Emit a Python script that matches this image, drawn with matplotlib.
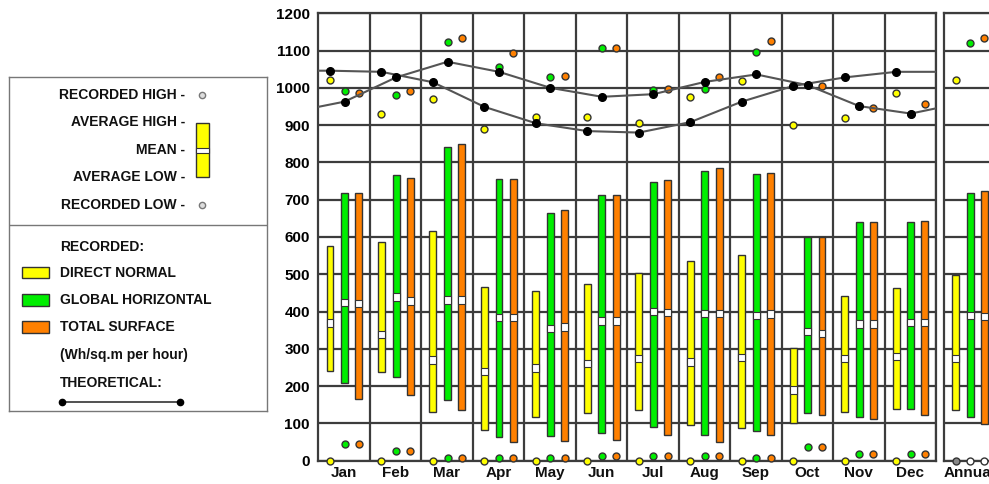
import matplotlib
matplotlib.use("Agg")
import matplotlib.pyplot as plt
from matplotlib.patches import Rectangle
import numpy as np

plt.rcParams['font.family'] = ['Liberation Sans', 'DejaVu Sans']
plt.rcParams['font.weight'] = 'bold'

months = ['Jan', 'Feb', 'Mar', 'Apr', 'May', 'Jun',
          'Jul', 'Aug', 'Sep', 'Oct', 'Nov', 'Dec']

# direct normal
dn_hi = [577, 586, 617, 465, 455, 473, 504, 535, 552, 303, 442, 462]
dn_lo = [240, 237, 131, 82, 118, 129, 136, 95, 87, 102, 131, 138]
dn_mean = [369, 339, 270, 239, 249, 261, 274, 265, 276, 189, 274, 279]
dn_rec_hi = [1022, 929, 969, 890, 923, 923, 905, 976, 1018, 900, 918, 987]
dn_rec_lo = [0, 0, 0, 0, 0, 0, 0, 0, 0, 0, 0, 0]

# global horizontal
gh_hi = [719, 766, 842, 755, 664, 712, 748, 776, 769, 599, 641, 639]
gh_lo = [207, 225, 163, 62, 66, 73, 89, 69, 79, 127, 118, 138]
gh_mean = [424, 439, 431, 384, 355, 375, 400, 395, 389, 346, 366, 370]
gh_rec_hi = [992, 980, 1122, 1057, 1028, 1108, 994, 997, 1097, 1007, 951, 931]
gh_rec_lo = [45, 27, 6, 6, 6, 11, 11, 11, 6, 37, 18, 18]

# total surface
ts_hi = [719, 759, 850, 755, 672, 712, 752, 786, 772, 599, 639, 643]
ts_lo = [165, 176, 136, 49, 53, 55, 69, 49, 69, 122, 111, 122]
ts_mean = [422, 428, 431, 384, 359, 375, 397, 395, 393, 341, 366, 370]
ts_rec_hi = [987, 992, 1133, 1094, 1032, 1108, 997, 1028, 1126, 1004, 945, 956]
ts_rec_lo = [45, 27, 6, 6, 6, 11, 11, 11, 6, 37, 18, 18]

# annual: avg high, avg low, mean, recorded high, recorded low
ann_dn = [498, 136, 274, 1021, 0]
ann_gh = [719, 118, 390, 1121, 0]
ann_ts = [723, 98, 386, 1133, 0]

# theoretical curves (month points + value at left / right edge)
theo_a = [1046, 1043, 1015, 949, 905, 884, 880, 908, 963, 1005, 1028, 1043]
theo_a_edges = [1046, 1043]
theo_b = [963, 1028, 1070, 1043, 1000, 976, 983, 1016, 1036, 1007, 951, 931]
theo_b_edges = [949, 945]

YEL, GRN, ORG = '#ffff00', '#00ee00', '#ff8000'
EDGE = '#333333'
GRID = '#3c3c3c'
OFFS = [0.227, 0.51, 0.785]
BW = 0.135

W, H = 989, 484
fig = plt.figure(figsize=(W / 100, H / 100), dpi=100)


def px_axes(x0, y0, x1, y1):
    return fig.add_axes([x0 / W, (H - y1) / H, (x1 - x0) / W, (y1 - y0) / H])


def draw_set(ax, x, hi, lo, mean, rhi, rlo, color, lo_face=None):
    x = np.asarray(x, float)
    hi, lo, mean = map(np.asarray, (hi, lo, mean))
    ax.bar(x, hi - lo, bottom=lo, width=BW, color=color, edgecolor=EDGE,
           linewidth=1, zorder=3)
    ax.bar(x, 20, bottom=mean - 10, width=BW, color='white', edgecolor=EDGE,
           linewidth=0.8, zorder=4)
    ax.plot(x, rhi, 'o', ms=5, mfc=color, mec=EDGE, mew=1, zorder=5,
            clip_on=False)
    ax.plot(x, rlo, 'o', ms=5, mfc=lo_face or color, mec=EDGE, mew=1,
            zorder=5, clip_on=False)


def style(ax, n):
    ax.set_ylim(0, 1200)
    ax.set_xlim(0, n)
    ax.set_yticks(range(0, 1201, 100))
    ax.set_xticks(np.arange(n) + 1)
    ax.grid(True, color=GRID, lw=1.6, zorder=1)
    ax.set_axisbelow(True)
    ax.tick_params(length=0, labelsize=11, pad=6)
    ax.set_xticklabels([])
    for s in ax.spines.values():
        s.set_color(GRID)
        s.set_linewidth(1.6)


ax = px_axes(318.3, 13.3, 936, 460.6)
style(ax, 12)
for lab in ax.get_yticklabels():
    lab.set_fontweight('bold')
idx = np.arange(12)
draw_set(ax, idx + OFFS[0], dn_hi, dn_lo, dn_mean, dn_rec_hi, dn_rec_lo, YEL)
draw_set(ax, idx + OFFS[1], gh_hi, gh_lo, gh_mean, gh_rec_hi, gh_rec_lo, GRN)
draw_set(ax, idx + OFFS[2], ts_hi, ts_lo, ts_mean, ts_rec_hi, ts_rec_lo, ORG)

for vals, edges, off in [(theo_a, theo_a_edges, OFFS[0]),
                         (theo_b, theo_b_edges, OFFS[1])]:
    xs = np.concatenate([[0], idx + off, [12]])
    ys = np.concatenate([[edges[0]], vals, [edges[1]]])
    ax.plot(xs, ys, color='#555555', lw=1.5, zorder=6)
    ax.plot(idx + off, vals, 'o', color='black', ms=5.5, zorder=7)

for i, m in enumerate(months):
    ax.text(i + 0.5, -32, m, ha='center', va='center', fontsize=11,
            fontweight='bold', color='#111111', clip_on=False)

# annual panel
axa = px_axes(944, 13.3, 995.5, 460.6)
style(axa, 1)
axa.set_yticklabels([])
for vals, off, c, lf in [(ann_dn, OFFS[0], YEL, '#888888'),
                         (ann_gh, OFFS[1], GRN, 'white'),
                         (ann_ts, OFFS[2], ORG, 'white')]:
    draw_set(axa, [off], [vals[0]], [vals[1]], [vals[2]], [vals[3]],
             [vals[4]], c, lo_face=lf)
axa.text(0.5, -32, 'Annual', ha='center', va='center', fontsize=11,
         fontweight='bold', color='#111111', clip_on=False)

# legend panel
lx = px_axes(9.3, 76.7, 266.7, 410.7)
lx.set_xlim(9.3, 266.7)
lx.set_ylim(410.7, 76.7)
lx.set_xticks([])
lx.set_yticks([])
for s in lx.spines.values():
    s.set_color('#777777')
    s.set_linewidth(1)
lx.axhline(225, color='#777777', lw=1)

fs = 10
for y, t in [(95, 'RECORDED HIGH -'), (122.3, 'AVERAGE HIGH -'),
             (150, 'MEAN -'), (177.3, 'AVERAGE LOW -'),
             (205, 'RECORDED LOW -')]:
    lx.text(185, y, t, ha='right', va='center', fontsize=fs,
            fontweight='bold', color='#111111')
lx.add_patch(Rectangle((196, 123.3), 13.3, 54, facecolor=YEL,
                       edgecolor=EDGE, lw=1))
lx.add_patch(Rectangle((196, 148), 13.3, 5.5, facecolor='white',
                       edgecolor=EDGE, lw=0.8))
lx.plot([201.7, 201.7], [95, 205], 'o', ms=4.5, mfc='#dddddd', mec='#777777',
        mew=1, ls='none')

lx.text(60, 246.7, 'RECORDED:', ha='left', va='center', fontsize=fs,
        fontweight='bold', color='#111111')
for y, c, t in [(272.7, YEL, 'DIRECT NORMAL'),
                (300, GRN, 'GLOBAL HORIZONTAL'),
                (327.3, ORG, 'TOTAL SURFACE')]:
    lx.add_patch(Rectangle((21.7, y - 5.8), 27.6, 11.6, facecolor=c,
                           edgecolor=EDGE, lw=1))
    lx.text(60, y, t, ha='left', va='center', fontsize=fs,
            fontweight='bold', color='#111111')
lx.text(60, 355, '(Wh/sq.m per hour)', ha='left', va='center', fontsize=fs,
        fontweight='bold', color='#111111')
lx.text(60, 382.7, 'THEORETICAL:', ha='left', va='center', fontsize=fs,
        fontweight='bold', color='#111111')
lx.plot([61.7, 180], [401.7, 401.7], '-', color='#333333', lw=1.2)
lx.plot([61.7, 180], [401.7, 401.7], 'o', color='black', ms=4.5)

fig.savefig('out.png', dpi=100)
